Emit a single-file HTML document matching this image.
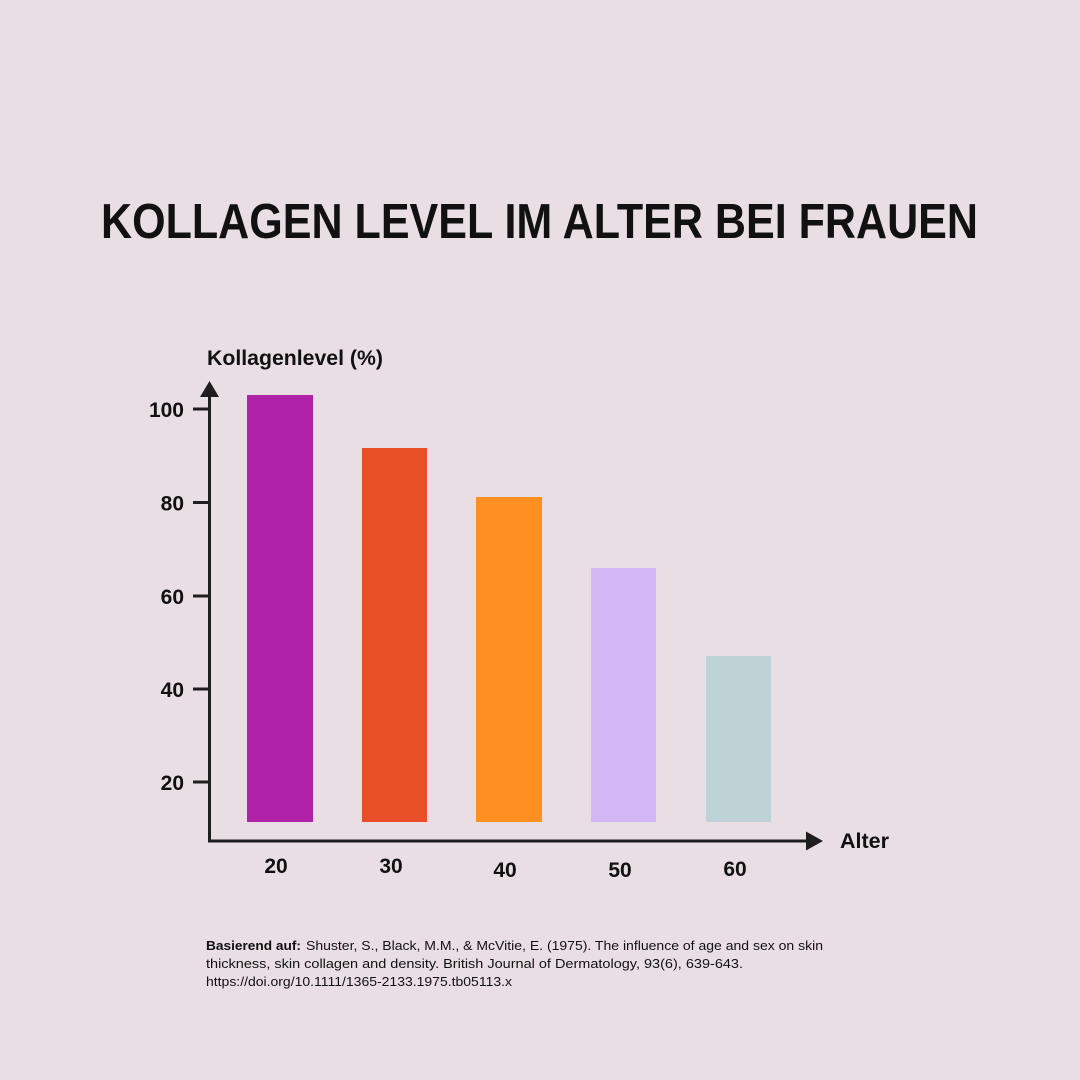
<!DOCTYPE html>
<html>
<head>
<meta charset="utf-8">
<style>
  html, body { margin:0; padding:0; background:#e9dee4; }
  svg { display:block; }
  text { font-family: "Liberation Sans", "DejaVu Sans", sans-serif; fill:#111; }
</style>
</head>
<body>
<svg width="1080" height="1080" viewBox="0 0 1080 1080" xmlns="http://www.w3.org/2000/svg">
  <rect x="0" y="0" width="1080" height="1080" fill="#e9dee4"/>

  <!-- Title -->
  <text x="101" y="238" font-size="49" font-weight="bold" textLength="877" lengthAdjust="spacingAndGlyphs">KOLLAGEN LEVEL IM ALTER BEI FRAUEN</text>

  <!-- Y axis label -->
  <text x="207" y="365" font-size="21" font-weight="bold" textLength="176" lengthAdjust="spacingAndGlyphs">Kollagenlevel (%)</text>

  <!-- Bars -->
  <rect x="247" y="395" width="66" height="427" fill="#b023a8"/>
  <rect x="362" y="448" width="65" height="374" fill="#e94f26"/>
  <rect x="476" y="497" width="66" height="325" fill="#ff8f20"/>
  <rect x="591" y="568" width="65" height="254" fill="#d3b6f5"/>
  <rect x="706" y="656" width="65" height="166" fill="#bed3d6"/>

  <!-- Y axis -->
  <line x1="209.5" y1="394" x2="209.5" y2="842.5" stroke="#1e1e1e" stroke-width="3"/>
  <polygon points="209.5,381 200,397 219,397" fill="#1e1e1e"/>

  <!-- X axis -->
  <line x1="208" y1="841" x2="810" y2="841" stroke="#1e1e1e" stroke-width="3"/>
  <polygon points="806,831.5 806,850.5 823,841" fill="#1e1e1e"/>

  <!-- Y ticks -->
  <g stroke="#1e1e1e" stroke-width="3">
    <line x1="193" y1="409" x2="209" y2="409"/>
    <line x1="193" y1="502.5" x2="209" y2="502.5"/>
    <line x1="193" y1="596" x2="209" y2="596"/>
    <line x1="193" y1="689" x2="209" y2="689"/>
    <line x1="193" y1="782" x2="209" y2="782"/>
  </g>

  <!-- Y tick labels -->
  <g font-size="21" font-weight="bold" text-anchor="end">
    <text x="184" y="417">100</text>
    <text x="184" y="510.5">80</text>
    <text x="184" y="604">60</text>
    <text x="184" y="697">40</text>
    <text x="184" y="790">20</text>
  </g>

  <!-- X tick labels -->
  <g font-size="21" font-weight="bold" text-anchor="middle">
    <text x="276" y="873">20</text>
    <text x="391" y="873">30</text>
    <text x="505" y="877">40</text>
    <text x="620" y="877">50</text>
    <text x="735" y="876">60</text>
  </g>

  <!-- X axis label -->
  <text x="840" y="848" font-size="21" font-weight="bold" textLength="49" lengthAdjust="spacingAndGlyphs">Alter</text>

  <!-- Citation -->
  <text x="206" y="950" font-size="13" font-weight="bold" textLength="95" lengthAdjust="spacingAndGlyphs">Basierend auf:</text>
  <text x="306" y="950" font-size="13" textLength="517" lengthAdjust="spacingAndGlyphs">Shuster, S., Black, M.M., &amp; McVitie, E. (1975). The influence of age and sex on skin</text>
  <text x="206" y="968" font-size="13" textLength="537" lengthAdjust="spacingAndGlyphs">thickness, skin collagen and density. British Journal of Dermatology, 93(6), 639-643.</text>
  <text x="206" y="986" font-size="13" textLength="306" lengthAdjust="spacingAndGlyphs">https://doi.org/10.1111/1365-2133.1975.tb05113.x</text>
</svg>
</body>
</html>
